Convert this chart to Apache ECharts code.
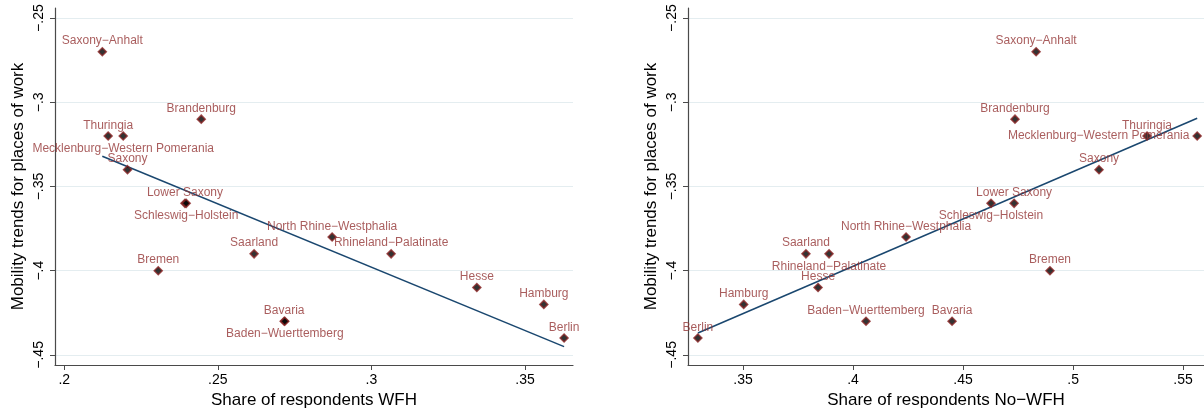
<!DOCTYPE html>
<html><head><meta charset="utf-8">
<script src="https://cdn.jsdelivr.net/npm/echarts@6/dist/echarts.min.js"></script>
<style>html,body{margin:0;padding:0;background:#fff}#c{width:1204px;height:409px}</style>
</head><body><div id="c"></div>
<script>
const states = ["Saxony\u2212Anhalt","Brandenburg","Thuringia","Mecklenburg\u2212Western Pomerania","Saxony","Lower Saxony","Schleswig\u2212Holstein","Bremen","Saarland","Bavaria","Baden\u2212Wuerttemberg","North Rhine\u2212Westphalia","Rhineland\u2212Palatinate","Hesse","Hamburg","Berlin"];
const mobility = [-0.27,-0.31,-0.32,-0.32,-0.34,-0.36,-0.36,-0.40,-0.39,-0.43,-0.43,-0.38,-0.39,-0.41,-0.42,-0.44];
const shareWFH = [0.2124,0.2446,0.2143,0.2192,0.2206,0.2393,0.2397,0.2306,0.2618,0.2716,0.2718,0.2872,0.3064,0.3343,0.3561,0.3627];
const shareNoWFH = [0.4832,0.4736,0.5336,0.5564,0.5118,0.4732,0.4627,0.4895,0.3786,0.4450,0.4059,0.4241,0.3891,0.3841,0.3503,0.3295];
const yTicks = [-0.45,-0.40,-0.35,-0.30,-0.25];
const xTicksLeft = [0.20,0.25,0.30,0.35];
const xTicksRight = [0.35,0.40,0.45,0.50,0.55];

const posLeft = {"Schleswig\u2212Holstein":"bottom","Baden\u2212Wuerttemberg":"bottom","Mecklenburg\u2212Western Pomerania":"bottom"};
const posRight = {"Schleswig\u2212Holstein":"bottom","Rhineland\u2212Palatinate":"bottom","Mecklenburg\u2212Western Pomerania":"left"};

function fmt(v){
  let s = Math.abs(v).toFixed(2).replace(/0$/,'').replace(/^0/,'');
  return (v<0?'\u2212':'')+s;
}
function ols(xs, ys){
  const n=xs.length; const mx=xs.reduce((a,b)=>a+b)/n; const my=ys.reduce((a,b)=>a+b)/n;
  let sxy=0,sxx=0; for(let i=0;i<n;i++){sxy+=(xs[i]-mx)*(ys[i]-my);sxx+=(xs[i]-mx)**2;}
  const b=sxy/sxx, a=my-b*mx; const x0=Math.min(...xs), x1=Math.max(...xs);
  return [[x0,a+b*x0],[x1,a+b*x1]];
}
const font = "'Liberation Sans', Arial, sans-serif";
const axisCol = '#4a4a4a';
function xAx(idx, min, max, ticks, name){
  return {type:'value', gridIndex:idx, min, max,
    name, nameLocation:'middle', nameGap:21,
    nameTextStyle:{fontFamily:font, fontSize:17, color:'#000'},
    axisLine:{show:true, onZero:false, lineStyle:{color:axisCol, width:1.2}},
    axisTick:{show:true, length:5, customValues:ticks, lineStyle:{color:axisCol}},
    axisLabel:{customValues:ticks, formatter:fmt, fontFamily:font, fontSize:14, color:'#000', margin:8},
    splitLine:{show:false}};
}
function yAx(idx){
  return {type:'value', gridIndex:idx, min:-0.456, max:-0.244,
    name:'Mobility trends for places of work', nameLocation:'middle', nameGap:28,
    nameTextStyle:{fontFamily:font, fontSize:17, color:'#000'},
    axisLine:{show:true, onZero:false, lineStyle:{color:axisCol, width:1.2}},
    axisTick:{show:true, length:5, customValues:yTicks, lineStyle:{color:axisCol}},
    axisLabel:{customValues:yTicks, formatter:fmt, rotate:90, fontFamily:font, fontSize:14, color:'#000', margin:9},
    splitLine:{show:true, lineStyle:{color:'#e4edf0', width:1}}};
}
function scatter(idx, xs, pos){
  return {type:'scatter', xAxisIndex:idx, yAxisIndex:idx, symbol:'diamond', symbolSize:8,
    itemStyle:{color:'#000', borderColor:'#8b2525', borderWidth:1.5},
    label:{show:true, position:'top', distance:0, formatter:p=>p.data.name, fontFamily:font, fontSize:12, color:'#933535'},
    labelLayout:{hideOverlap:false},
    data: states.map((s,i)=>({name:s, value:[xs[i], mobility[i]], label:{position: pos[s]||'top', distance: pos[s]==='left'?3:(pos[s]==='bottom'?2:0)}})),
    z:3};
}
function fit(idx, xs){
  return {type:'line', xAxisIndex:idx, yAxisIndex:idx, data:ols(xs, mobility), symbol:'none',
    lineStyle:{color:'#1a476f', width:1.5}, z:2};
}
const chart = echarts.init(document.getElementById('c'), null, {renderer:'canvas'});
chart.setOption({
  animation:false,
  backgroundColor:'#fff',
  grid:[{left:55, right:631, top:8, bottom:44, containLabel:false, outerBoundsMode:'none'},{left:688, right:0, top:8, bottom:44, containLabel:false, outerBoundsMode:'none'}],
  xAxis:[xAx(0,0.197,0.3656,xTicksLeft,'Share of respondents WFH'), xAx(1,0.325,0.5595,xTicksRight,'Share of respondents No\u2212WFH')],
  yAxis:[yAx(0), yAx(1)],
  series:[fit(0,shareWFH), scatter(0,shareWFH,posLeft), fit(1,shareNoWFH), scatter(1,shareNoWFH,posRight)]
});
</script></body></html>
